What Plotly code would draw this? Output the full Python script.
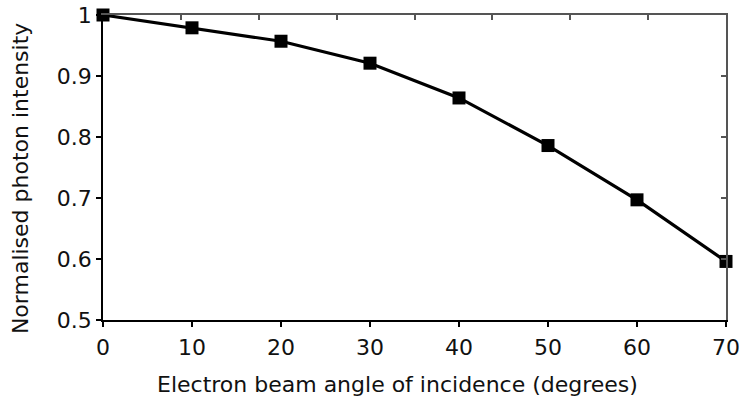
import plotly.graph_objects as go

angles = [0, 10, 20, 30, 40, 50, 60, 70]
intensity = [1.0, 0.979, 0.957, 0.921, 0.864, 0.786, 0.697, 0.596]

x_title = "Electron beam angle of incidence (degrees)"
y_title = "Normalised photon intensity"
x_ticks = [0, 10, 20, 30, 40, 50, 60, 70]
y_ticks = [0.5, 0.6, 0.7, 0.8, 0.9, 1.0]
y_ticktext = ["0.5", "0.6", "0.7", "0.8", "0.9", "1"]
top_ticks = [8.75 * i for i in range(9)]

FONT = "DejaVu Sans"
FS = 22

fig = go.Figure()
fig.add_trace(go.Scatter(
    x=angles, y=intensity, mode="lines+markers",
    line=dict(color="black", width=3.2),
    marker=dict(symbol="square", size=13, color="black"),
    cliponaxis=False, showlegend=False, hoverinfo="skip",
))
# helper trace for the mirrored top/right axes
fig.add_trace(go.Scatter(x=[None], y=[None], xaxis="x2", yaxis="y2",
                         showlegend=False, hoverinfo="skip"))

fig.update_layout(
    width=740, height=406,
    margin=dict(l=103, r=14, t=15, b=86, autoexpand=False),
    paper_bgcolor="white", plot_bgcolor="white",
    font=dict(family=FONT, size=FS, color="#111"),
    xaxis=dict(range=[0, 70], tickvals=x_ticks, ticktext=[str(v) for v in x_ticks],
               ticks="outside", ticklen=5, tickwidth=1.5, tickcolor="black",
               ticklabelstandoff=2,
               showline=True, linecolor="black", linewidth=1.5, automargin=False,
               showgrid=False, zeroline=False, tickfont=dict(family=FONT, size=FS)),
    yaxis=dict(range=[0.5, 1.0], tickvals=y_ticks, ticktext=y_ticktext,
               ticks="outside", ticklen=5, tickwidth=1.5, tickcolor="black",
               showline=True, linecolor="black", linewidth=1.5, automargin=False,
               showgrid=False, zeroline=False, tickfont=dict(family=FONT, size=FS)),
    xaxis2=dict(range=[0, 70], overlaying="x", side="top", anchor="y",
                tickvals=top_ticks, ticks="inside", ticklen=5, tickwidth=1.5,
                tickcolor="#555", showticklabels=False, automargin=False,
                showline=True, linecolor="#555", linewidth=1.5,
                showgrid=False, zeroline=False),
    yaxis2=dict(range=[0.5, 1.0], overlaying="y", side="right", anchor="x",
                tickvals=[0.6, 0.7, 0.8, 0.9], ticks="inside", ticklen=5, tickwidth=1.5,
                tickcolor="#555", showticklabels=False, automargin=False,
                showline=True, linecolor="#555", linewidth=1.5,
                showgrid=False, zeroline=False),
    annotations=[
        dict(text=x_title, xref="paper", yref="paper", x=0.4735, y=-0.213,
             xanchor="center", yanchor="middle", showarrow=False,
             font=dict(family=FONT, size=FS, color="#111")),
        dict(text=y_title, xref="paper", yref="paper", x=-0.1332, y=0.462,
             xanchor="center", yanchor="middle", textangle=-90, showarrow=False,
             font=dict(family=FONT, size=FS, color="#111")),
    ],
)

fig.write_html("out.html")
